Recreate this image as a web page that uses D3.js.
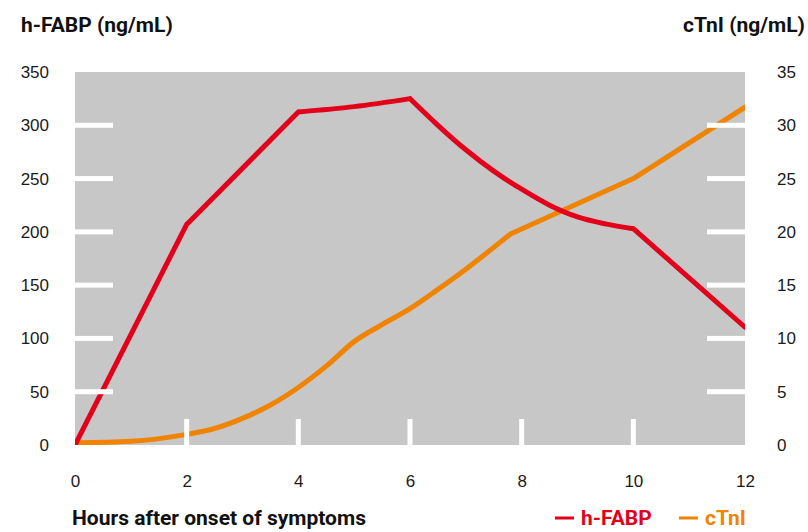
<!DOCTYPE html>
<html>
<head>
<meta charset="utf-8">
<script src="https://cdn.jsdelivr.net/npm/d3@7"></script>
<style>
  body { margin: 0; background: #fff; }
  svg { display: block; font-family: Roboto, "Liberation Sans", sans-serif; }
  .tick-label { font-size: 17px; fill: #1a1a1a; }
  .title { font-size: 21px; font-weight: 700; fill: #111; }
</style>
</head>
<body>
<svg id="chart" width="808" height="532"></svg>
<script>
// h-FABP (ng/mL), left axis
const fabpHours = [0, 2, 4, 5, 6, 6.5, 7, 7.5, 8, 8.5, 9, 9.5, 10, 12]
const fabpValues = [0, 207, 312.5, 317.5, 325, 300, 277, 257, 240, 225, 214, 207.5, 203, 110.5]
// hours where the h-FABP line has a sharp bend
const fabpCorners = [2, 4, 6, 10]

// cTnI (ng/mL), right axis
const ctniHours = [0, 1, 2, 2.5, 3, 3.5, 4, 4.5, 5, 5.5, 6, 6.5, 7, 7.8, 10, 12]
const ctniValues = [0.2, 0.35, 1, 1.55, 2.5, 3.75, 5.4, 7.4, 9.7, 11.3, 12.8, 14.6, 16.5, 19.8, 25, 31.7]
const ctniCorners = [7.8, 10]

const xTicks = [0, 2, 4, 6, 8, 10, 12]
const leftTicks = [0, 50, 100, 150, 200, 250, 300, 350]
const rightTicks = [0, 5, 10, 15, 20, 25, 30, 35]

const colors = { fabp: '#e2001a', ctni: '#f08300', plot: '#c6c7c6' }

const plot = { left: 75, right: 745, top: 72, bottom: 445 }

const svg = d3.select('#chart')

const x = d3.scaleLinear().domain([0, 12]).range([plot.left, plot.right])
const yLeft = d3.scaleLinear().domain([0, 350]).range([plot.bottom, plot.top])
const yRight = d3.scaleLinear().domain([0, 35]).range([plot.bottom, plot.top])

svg.append('defs')
  .append('clipPath')
  .attr('id', 'plot-clip')
  .append('rect')
  .attr('x', plot.left)
  .attr('y', plot.top)
  .attr('width', plot.right - plot.left)
  .attr('height', plot.bottom - plot.top)

svg.append('rect')
  .attr('x', plot.left)
  .attr('y', plot.top)
  .attr('width', plot.right - plot.left)
  .attr('height', plot.bottom - plot.top)
  .attr('fill', colors.plot)

// split a series at its corners, each piece gets a smooth monotone curve
function splitAtCorners (hours, values, corners) {
  const pieces = []
  let current = []
  hours.forEach((h, i) => {
    current.push([h, values[i]])
    if (corners.includes(h)) {
      pieces.push(current)
      current = [[h, values[i]]]
    }
  })
  if (current.length > 1) pieces.push(current)
  return pieces
}

const lines = svg.append('g').attr('clip-path', 'url(#plot-clip)')

function drawSeries (pieces, yScale, color) {
  const line = d3.line()
    .x(d => x(d[0]))
    .y(d => yScale(d[1]))
    .curve(d3.curveMonotoneX)

  lines.append('path')
    .attr('d', pieces.map(p => line(p)).join(''))
    .attr('fill', 'none')
    .attr('stroke', color)
    .attr('stroke-width', 5)
    .attr('stroke-linecap', 'round')
    .attr('stroke-linejoin', 'round')
}

drawSeries(splitAtCorners(ctniHours, ctniValues, ctniCorners), yRight, colors.ctni)
drawSeries(splitAtCorners(fabpHours, fabpValues, fabpCorners), yLeft, colors.fabp)

// white tick marks inside the plot area
const marks = svg.append('g').attr('fill', '#fff')

marks.selectAll('rect.left-mark')
  .data(leftTicks.slice(1, -1))
  .enter()
  .append('rect')
  .attr('class', 'left-mark')
  .attr('x', plot.left)
  .attr('y', d => yLeft(d) - 2.5)
  .attr('width', 38)
  .attr('height', 5)

marks.selectAll('rect.right-mark')
  .data(rightTicks.slice(1, -1))
  .enter()
  .append('rect')
  .attr('class', 'right-mark')
  .attr('x', plot.right - 38)
  .attr('y', d => yRight(d) - 2.5)
  .attr('width', 38)
  .attr('height', 5)

marks.selectAll('rect.bottom-mark')
  .data(xTicks.slice(1, -1))
  .enter()
  .append('rect')
  .attr('class', 'bottom-mark')
  .attr('x', d => x(d) - 2.5)
  .attr('y', plot.bottom - 26)
  .attr('width', 5)
  .attr('height', 26)

// axes (labels only)
function styleAxis (g) {
  g.select('.domain').remove()
  g.selectAll('.tick line').remove()
  g.selectAll('.tick text')
    .attr('class', 'tick-label')
    .attr('font-family', null)
    .attr('font-size', null)
    .attr('fill', null)
}

svg.append('g')
  .attr('transform', `translate(${plot.left - 26},0)`)
  .call(d3.axisLeft(yLeft).tickValues(leftTicks).tickSize(0).tickPadding(0))
  .call(styleAxis)

svg.append('g')
  .attr('transform', `translate(${plot.right + 32},0)`)
  .call(d3.axisRight(yRight).tickValues(rightTicks).tickSize(0).tickPadding(0))
  .call(styleAxis)

svg.append('g')
  .attr('transform', `translate(0,${plot.bottom + 30})`)
  .call(d3.axisBottom(x).tickValues(xTicks).tickSize(0).tickPadding(0))
  .call(styleAxis)

// titles
svg.append('text')
  .attr('class', 'title')
  .attr('x', 21)
  .attr('y', 32)
  .text('h-FABP (ng/mL)')

svg.append('text')
  .attr('class', 'title')
  .attr('x', 805)
  .attr('y', 32)
  .attr('text-anchor', 'end')
  .text('cTnI (ng/mL)')

svg.append('text')
  .attr('class', 'title')
  .attr('x', 72)
  .attr('y', 525)
  .text('Hours after onset of symptoms')

// legend
const legendItems = [
  { label: 'h-FABP', color: colors.fabp, x: 555 },
  { label: 'cTnI', color: colors.ctni, x: 679 }
]

const legend = svg.selectAll('g.legend-item')
  .data(legendItems)
  .enter()
  .append('g')
  .attr('class', 'legend-item')
  .attr('transform', d => `translate(${d.x},518)`)

legend.append('rect')
  .attr('x', 0)
  .attr('y', -1.5)
  .attr('width', 19)
  .attr('height', 3)
  .attr('fill', d => d.color)

legend.append('text')
  .attr('class', 'title')
  .attr('x', 26)
  .attr('y', 7)
  .style('fill', d => d.color)
  .text(d => d.label)
</script>
</body>
</html>
